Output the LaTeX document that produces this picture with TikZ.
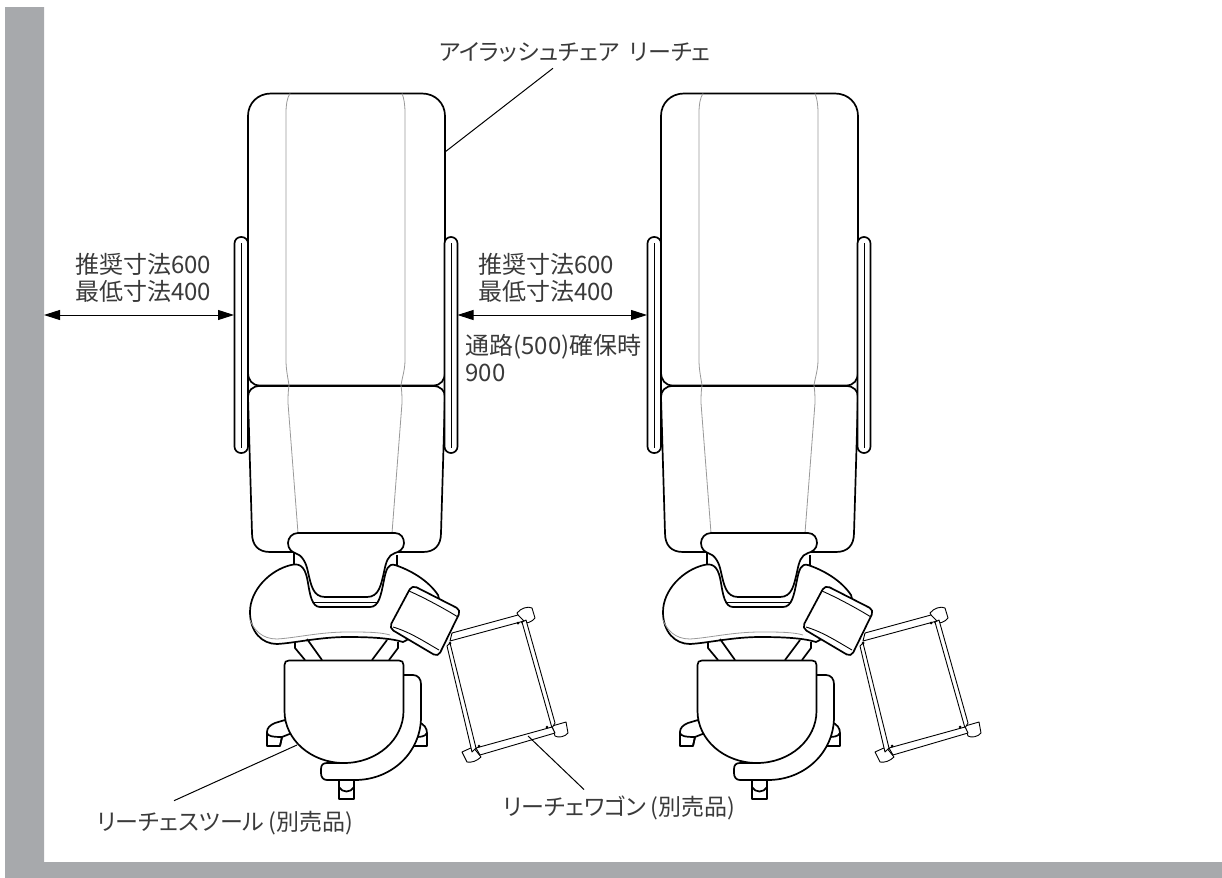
\documentclass[tikz,border=0pt]{standalone}
\usepackage{fontspec}
\setmainfont{Noto Sans CJK JP}[RawFeature=+palt]
\usetikzlibrary{arrows.meta,calc}
\definecolor{wallgray}{HTML}{A7A9AC}
\definecolor{textgray}{HTML}{3A3A3A}

\tikzset{
  outline/.style={line width=0.85pt, black, fill=white, line join=round},
  thinline/.style={line width=0.45pt, black, fill=white, line join=round},
  seamline/.style={line width=0.4pt, black!40},
  dimline/.style={line width=0.5pt, {Triangle[length=8pt,width=5pt]}-{Triangle[length=8pt,width=5pt]}},
  leader/.style={line width=0.5pt},
  caption/.style={font=\fontsize{12}{13.5}\selectfont, text=textgray, inner sep=0pt, align=center},
  reachset/.pic={
    % chair
    \draw[outline] (248,372) -- (248,116) .. controls (248,103) and (258,93.5) .. (271,93.5) -- (422,93.5) .. controls (435,93.5) and (445,103) .. (445,116) -- (445,372) .. controls (445,380) and (441,385.5) .. (433,385.5) -- (260,385.5) .. controls (252,385.5) and (248,380) .. (248,372);
    \draw[outline] (260,386) .. controls (252,386) and (248,391) .. (248,397) -- (252,533) .. controls (252,545) and (258,552) .. (270,552) -- (423,552) .. controls (435,552) and (441,545) .. (441,533) -- (445,397) .. controls (445,391) and (441,386) .. (433,386) -- cycle;
    \draw[seamline] (290,93.5) .. controls (287,98) and (286,105) .. (286,113) -- (286,360) .. controls (286,370) and (288,378) .. (289,385.5) .. controls (288,392) and (288,398) .. (288,403) -- (298,533);
    \draw[seamline] (402,93.5) .. controls (404,98) and (405,105) .. (405,113) -- (405,360) .. controls (405,370) and (402,378) .. (401,385.5) .. controls (402,392) and (402,398) .. (402,403) -- (392,533);
    % armrests
    \draw[outline, rounded corners=3.2pt] (234.5,237) rectangle (248,453);
    \draw[outline, rounded corners=3.2pt] (444.5,237) rectangle (457.5,453);
    \draw[thinline] (241,243) -- (241,448);
    \draw[thinline] (451,243) -- (451,448);
    \coordinate (-back) at (445,152);
    \coordinate (-armL) at (234,315);
    \coordinate (-armR) at (457.5,315);
    % table
    \draw[outline] (294,553) -- (294,566) (397,555) -- (397,566);
    \draw[outline] (291,565) .. controls (270,570) and (250,590) .. (250,612) .. controls (250,632) and (262,644) .. (277,644) .. controls (295,643) and (320,637) .. (347,637) .. controls (370,637) and (390,638) .. (403,642) -- (445,620) -- (438,595) .. controls (428,580) and (410,570) .. (395,565) .. controls (388,563) and (386,570) .. (384,580) .. controls (381,595) and (379,607) .. (370,607) -- (320,607) .. controls (312,607) and (310,595) .. (308,583) .. controls (306,570) and (302,562) .. (291,565) -- cycle;
    \draw[thinline] (313,602) -- (378,602);
    \draw[seamline] (250,620) .. controls (254,630) and (262,639) .. (277,639) .. controls (295,638) and (320,632) .. (347,632) .. controls (365,632) and (380,632) .. (390,635);
    % headrest
    \draw[outline] (298,533) -- (395,533) .. controls (401,533) and (404,538) .. (404,543) .. controls (404,549) and (399,552) .. (395,553) .. controls (388,555) and (386,562) .. (384,572) .. controls (381,585) and (379,597) .. (367,597) -- (325,597) .. controls (313,597) and (311,585) .. (308,572) .. controls (306,562) and (302,555) .. (295,553) .. controls (292,552) and (288,549) .. (288,543) .. controls (288,538) and (292,533) .. (298,533) -- cycle;
    % wagon
    \draw[thinline] (517,613) .. controls (521,608) and (528,606) .. (532,608) -- (535,618) .. controls (532,622) and (526,624) .. (522,623) -- cycle;
    \draw[thinline] (552,726) -- (566,722) -- (568,733) .. controls (565,737) and (558,738) .. (555,736) -- cycle;
    \draw[thinline] (462,752) -- (473,747) -- (481,757) .. controls (477,761) and (471,763) .. (467,762) -- cycle;
    \draw[thinline] (447,646) -- (450,643) -- (476,748) -- (472,752) -- cycle;
    \draw[thinline] (522,622) -- (526,620) -- (555,723) -- (552,728) -- cycle;
    \draw[thinline] (452,633) -- (518,615) -- (524,621) -- (450,641) -- cycle;
    \draw[thinline] (476,748) -- (552,727) -- (555,733) -- (480,755) -- cycle;
    \foreach \dotx/\doty in {450/643,518/623,479/746,547/727}
      \fill (\dotx,\doty) circle (1.5);
    \coordinate (-rail) at (528,736);
    % box on the table
    \draw[outline, rounded corners=2.5pt] (412,585) -- (461,610) -- (438,657) -- (389,628) -- cycle;
    \draw[thinline] (409,591) .. controls (425,598) and (445,609) .. (458,617);
    \draw[thinline] (393,627) .. controls (410,632) and (425,642) .. (439,650);
    % struts
    \draw[outline, fill=none] (295,642) -- (295,648) -- (305,660) (307,639) -- (322,660);
    \draw[outline, fill=none] (398,642) -- (398,648) -- (389,660) (387,640) -- (372,660);
    % casters
    \draw[outline] (285,720) -- (275,723) .. controls (270,725) and (267,728) .. (267,732) -- (267,746) -- (280,746) -- (282,737) -- (292,733) -- cycle;
    \draw[outline, fill=none] (267,733) .. controls (268,736) and (272,737) .. (282,737) (280,746) -- (282,737);
    \draw[outline] (418,722) .. controls (424,724) and (427,728) .. (427,733) -- (427,746) -- (414,746) -- (414,730) -- cycle;
    \draw[outline, fill=none] (414,737) .. controls (420,737) and (425,737) .. (427,733);
    \draw[outline] (339,778) -- (339,799) -- (354,799) -- (354,778) -- cycle;
    \draw[outline, fill=none] (339,787) .. controls (342,793) and (351,793) .. (354,787);
    % stool
    \draw[outline] (403.5,675) -- (413,675) .. controls (418,675) and (421,679) .. (421,684) -- (421,717) .. controls (421,752) and (392,780) .. (355,780) -- (327,780) .. controls (323,780) and (321,777) .. (321,773) -- (321,769) .. controls (321,765) and (323,763) .. (327,763) -- (345,763) -- cycle;
    \draw[outline] (284.5,711) -- (284.5,665) .. controls (284.5,662) and (286,660.5) .. (289,660.5) -- (399,660.5) .. controls (402,660.5) and (403.5,662) .. (403.5,665) -- (403.5,711) arc[start angle=0, end angle=180, x radius=59.5, y radius=52] -- cycle;
    \coordinate (-seat) at (297,745);
  }
}

\begin{document}
\begin{tikzpicture}[x=0.5pt, y=-0.5pt]
\useasboundingbox (0,0) rectangle (1222,878);
% wall
\fill[wallgray] (5,7) -- (44,7) -- (44,862) -- (1222,862) -- (1222,878) -- (5,878) -- cycle;
\coordinate (wallside) at (44,315);

\pic (chairA) at (0,0) {reachset};
\pic (chairB) at (413,0) {reachset};

% labels
\node[caption, font=\fontsize{11.5}{13.5}\selectfont] (chairname) at (575,52) {アイラッシュチェア\hspace{5pt}リーチェ};
\node[caption] (gapA) at (143,277.5) {推奨寸法600\\最低寸法400};
\node[caption] (gapB) at (546,277.5) {推奨寸法600\\最低寸法400};
\node[caption, align=left, anchor=west] (passage) at (465,358.5) {通路(500)確保時\\900};
\node[caption, font=\fontsize{11.5}{13.5}\selectfont] (stoolname) at (226,823) {リーチェスツール\hspace{2pt}(別売品)\hspace{1pt}};
\node[caption, font=\fontsize{11.5}{13.5}\selectfont] (wagonname) at (620,808) {リーチェワゴン\hspace{2pt}(別売品)\hspace{1pt}};

% dimensions
\draw[dimline] (wallside) -- (chairA-armL);
\draw[dimline] (chairA-armR) -- (chairB-armL);

% leaders
\draw[leader] (chairA-back) -- ($(chairname.south)+(-22,6)$);
\draw[leader] (chairA-seat) -- ($(stoolname.north)+(-52,-10)$);
\draw[leader] (chairA-rail) -- ($(wagonname.north)+(-36,-6)$);
\end{tikzpicture}
\end{document}
